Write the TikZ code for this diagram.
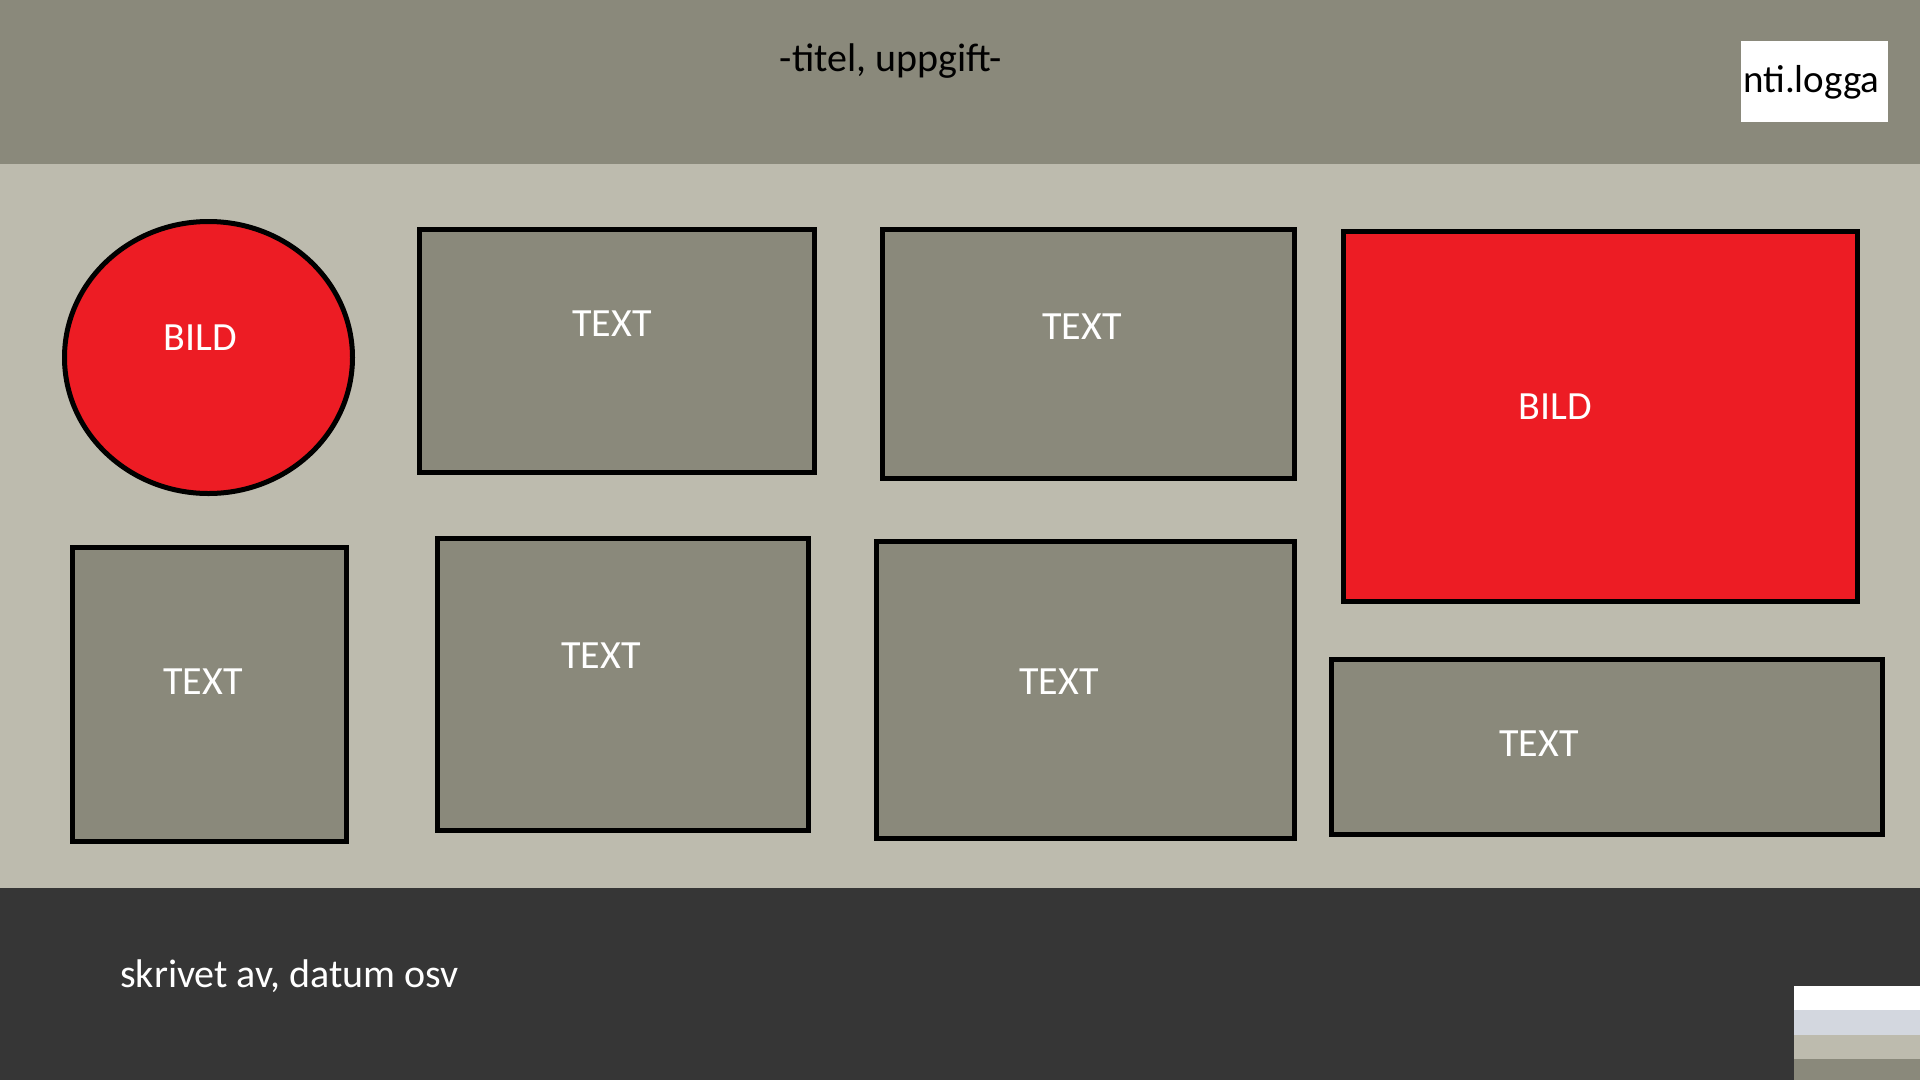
\documentclass[tikz,border=0pt]{standalone}
\usepackage{fontspec}
\usetikzlibrary{shapes.geometric}
\setmainfont{Carlito}
\definecolor{hdr}{HTML}{8A897B}
\definecolor{mid}{HTML}{BDBBAE}
\definecolor{ftr}{HTML}{363636}
\definecolor{redf}{HTML}{ED1C24}
\definecolor{swb}{HTML}{D3D7DF}
\begin{document}
\begin{tikzpicture}[x=1pt,y=-1pt,
  panel/.style={draw=black,line width=5pt,fill=hdr,inner sep=0pt,anchor=north west},
  redpanel/.style={panel,fill=redf},
  lbl/.style={text=white,font=\fontsize{40}{48}\selectfont,inner sep=0pt}]
\useasboundingbox (0,0) rectangle (1920,1080);
% bands
\fill[hdr] (0,0) rectangle (1920,164);
\fill[mid] (0,164) rectangle (1920,888);
\fill[ftr] (0,888) rectangle (1920,1080);
% swatches
\fill[white] (1794,986) rectangle (1920,1010);
\fill[swb] (1794,1010) rectangle (1920,1035);
\fill[mid] (1794,1035) rectangle (1920,1059);
\fill[hdr] (1794,1059) rectangle (1920,1080);
% header
\node[anchor=base,font=\fontsize{40}{48}\selectfont,inner sep=0pt] (title) at (891,71) {-titel, uppgift-};
\node[fill=white,anchor=north west,minimum width=147pt,minimum height=81pt,inner sep=0pt] (logo) at (1741,41) {};
\node[anchor=base west,font=\fontsize{39}{46}\selectfont,inner sep=0pt] (logotext) at (1743,92) {nti.logga};
% circle
\node[draw=black,line width=5pt,fill=redf,ellipse,minimum width=288pt,minimum height=272pt,inner sep=0pt] (circ) at (208.5,357.5) {};
\node[lbl] (t0) at (200,338) {BILD};
% boxes (anchored at outer corner; outer sep = half line width)
\node[panel,minimum width=395pt,minimum height=243pt] (b1) at (417,227) {};
\node[lbl] (t1) at (612,324) {TEXT};
\node[panel,minimum width=412pt,minimum height=249pt] (b2) at (880,227) {};
\node[lbl] (t2) at (1082,327) {TEXT};
\node[redpanel,minimum width=514pt,minimum height=370pt] (b3) at (1341,229) {};
\node[lbl] (t3) at (1555,407) {BILD};
\node[panel,minimum width=274pt,minimum height=294pt] (b4) at (70,545) {};
\node[lbl] (t4) at (203,682) {TEXT};
\node[panel,minimum width=371pt,minimum height=292pt] (b5) at (435,536) {};
\node[lbl] (t5) at (601,656) {TEXT};
\node[panel,minimum width=418pt,minimum height=297pt] (b6) at (874,539) {};
\node[lbl] (t6) at (1059,682) {TEXT};
\node[panel,minimum width=551pt,minimum height=175pt] (b7) at (1329,657) {};
\node[lbl] (t7) at (1539,744) {TEXT};
% footer
\node[lbl,anchor=base west] (foot) at (120,987) {skrivet av, datum osv};
\end{tikzpicture}
\end{document}
